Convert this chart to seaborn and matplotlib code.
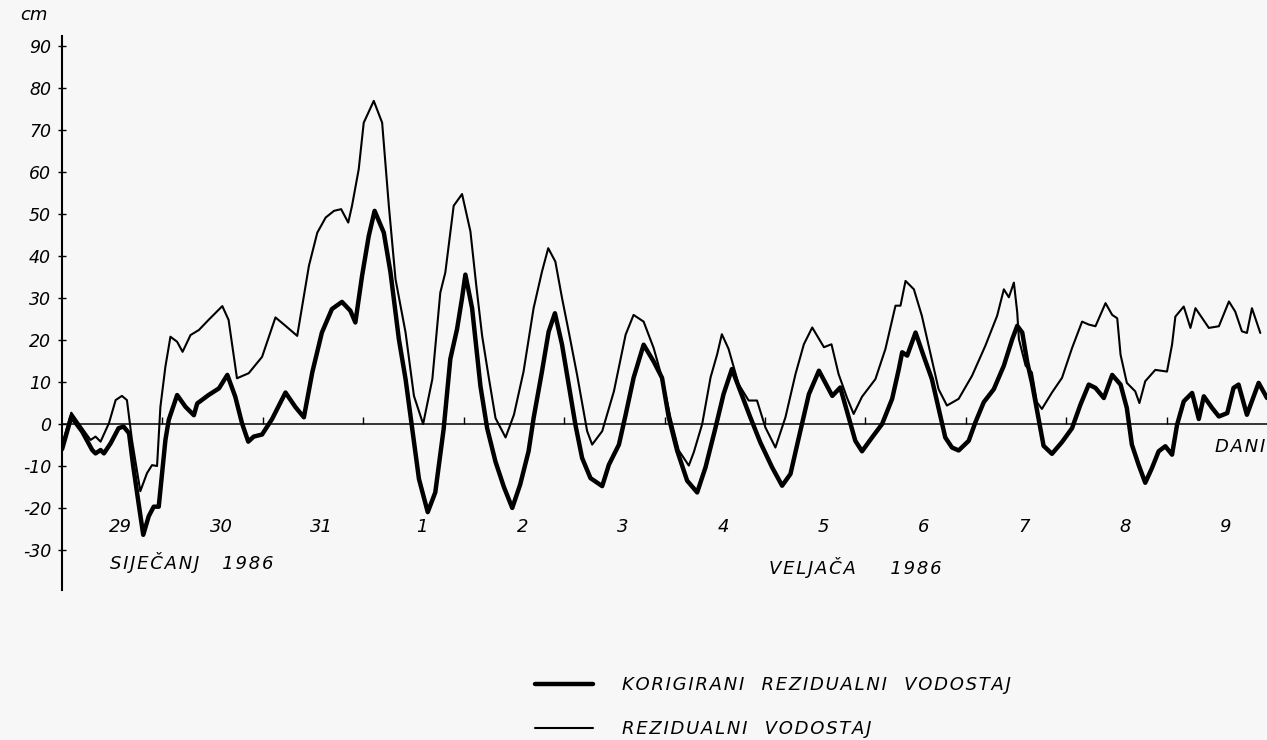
import matplotlib
matplotlib.use("Agg")
import matplotlib.pyplot as plt
import seaborn as sns

# hours from 29 Jan 1986 00:00, residual water level in cm
hours_rez = [0, 2.2, 4.8, 6.8, 8, 9.2, 11.2, 12.8, 14.3, 15.5, 16.7, 18.7, 20.3, 21.5, 22.7, 23.5,
             24.7, 25.9, 27.5, 28.8, 30.7, 32.7, 35, 38.3, 39.8, 41.8, 44.6, 47.8, 51, 53.4, 56.2,
             57.4, 59, 61, 63, 65, 66.7, 68.4, 69.3, 70.9, 72.1, 74.5, 76.5, 78.1, 79.7, 82.1, 84.1,
             86.3, 88.5, 90.4, 91.6, 93.6, 95.6, 97.6, 99, 100.4, 102, 103.6, 106, 108, 110.3,
             112.7, 114.7, 116.2, 117.9, 119.5, 121.1, 123.1, 125.5, 126.7, 129.1, 131.9, 134.7,
             136.6, 139, 141.4, 143.4, 145.4, 147.4, 149.8, 151, 153, 155, 156.6, 157.7, 159.3,
             161.7, 164.1, 166.1, 168.1, 170.5, 172.9, 175.3, 177.3, 179.3, 182.1, 183.9, 185.6,
             187.6, 189.2, 191.2, 194.4, 196.8, 199.2, 200.4, 201.6, 203.6, 205.5, 207.5, 209.5,
             211.5, 214.3, 217.5, 220.7, 223.5, 225.1, 226.3, 227.5, 228.3, 228.7, 230.3, 231.8,
             233, 234.2, 236.6, 239, 241.4, 243.8, 245.4, 247, 249.4, 251, 252.2, 253, 254.5,
             256.5, 257.5, 258.9, 261.3, 264.1, 265.3, 266.1, 268.1, 269.7, 270.9, 274.1, 276.5,
             278.9, 280.4, 282, 283.2, 284.4, 286.4]
rezidualni = [-5, 2.7, -1, -3.8, -3, -4.2, 0.2, 5.7, 6.7, 5.7, -3.8, -16, -11.7, -9.8, -10, 4.1,
              13.7, 20.8, 19.6, 17.2, 21.2, 22.4, 24.8, 28.1, 24.8, 10.9, 12.1, 16, 25.4, 23.4, 21,
              28.2, 37.7, 45.6, 49.2, 50.8, 51.2, 48, 52, 60.7, 71.8, 77, 71.8, 52, 34.5, 21.8, 6.7,
              0, 10.7, 31.3, 36.1, 52, 54.8, 45.9, 33, 21, 11, 1.4, -3.2, 2.2, 12.5,
              27.6, 36.3, 41.9, 38.7, 30, 22, 11.7, -1.7, -4.9, -1.7, 7.8, 21.3,
              26, 24.4, 18.1, 11, 1.6, -6.3, -9.9, -6.7, 0, 11.1, 16.7, 21.4, 17.9,
              9.5, 5.6, 5.6, -0.8, -5.6, 1.6, 11.9, 19, 23, 18.3, 19, 11.9,
              6.3, 2.4, 6.5, 10.7, 17.9, 28.2, 28.2, 34.1, 32.1, 25.8, 17.1, 8.3,
              4.4, 6, 11.5, 18.7, 25.8, 32.1, 30.2, 33.7, 26.6, 20.2, 13.9, 12.3,
              5.2, 3.6, 7.5, 11, 18.1, 24.4, 23.7, 23.3, 28.8, 26, 25.2, 16.5, 9.8,
              7.8, 5, 10.2, 12.9, 12.5, 18.9, 25.6, 28, 22.9, 27.6, 22.9, 23.3,
              29.2, 26.8, 22.1, 21.7, 27.6, 21.7]

hours_kor = [0, 2.2, 4.8, 7.2, 8, 9.2, 10, 11.6, 13.5, 14.7, 16, 17, 18.3, 19.4, 20.7, 21.9, 23.1,
             23.9, 24.7, 25.5, 27.5, 29.5, 31.5, 32.3, 35, 37.5, 39.5, 41.4, 43, 44.5, 45.8, 47.8,
             50.2, 53.4, 55.8, 57.8, 59.8, 62.1, 64.5, 66.9, 68.9, 70.1, 71.7, 73.3, 74.7, 76.9,
             78.5, 80.5, 82.1, 83.7, 85.3, 87.4, 89.2, 91.2, 92.8, 94.4, 95.6, 96.4, 98, 99.2, 100,
             101.6, 103.6, 105.6, 107.6, 109.5, 111.5, 112.7, 114.7, 116.3, 117.8, 119.5, 121.1,
             122.7, 124.3, 126.3, 129.1, 130.7, 133.1, 134.7, 136.6, 139, 141.4, 143.4, 145, 147,
             149.4, 151.8, 153.8, 156.2, 158.1, 160.1, 162.1, 164.5, 166.9, 169.7, 172.1, 174.1,
             176.1, 178.5, 180.9, 184.1, 186, 188, 189.6, 191.2, 193.6, 196, 198.4, 200, 200.8,
             202, 204, 205.9, 207.9, 209.9, 211.1, 212.7, 214.3, 216.7, 218.3, 220.3, 222.7,
             225.1, 227.1, 228.3, 229.5, 230.7, 231.8, 233.4, 234.6, 236.6, 239, 241.4, 243.4,
             245.4, 247, 249, 251, 253, 254.5, 255.7, 257.3, 258.9, 260.5, 262.1, 263.7, 265.3,
             266.5, 268.1, 270.1, 271.7, 272.9, 274.9, 276.5, 278.5, 280, 281.2, 283.2, 286, 288]
korigirani = [-6, 1.7, -1.8, -6.2, -7, -6.2, -7, -4.6, -1, -0.6, -2.2, -10, -19, -26.4, -22, -19.7,
              -19.7, -11.7, -3.8, 1, 6.9, 4.1, 2.1, 4.9, 6.9, 8.5, 11.7, 6.5, 0.2, -4.2, -3, -2.5,
              1.2, 7.5, 4, 1.6, 12.3, 21.8, 27.4, 29.1, 27, 24.2, 35.3, 44.8, 50.8, 45.6,
              36.1, 20.2, 10.7, -1.2, -13.1, -21, -16.3, -1.2, 15.5, 22.6, 30, 35.6, 27.6, 16.5, 9,
              -1, -9, -15, -20, -14.4, -6.5, 1.4, 12.5, 22, 26.4, 18.9, 9.4,
              -0.2, -8.1, -12.9, -14.8, -9.7, -4.9, 2.2, 11, 18.9, 14.9, 11, 1.6, -6.3,
              -13.5, -16.3, -10.3, -0.8, 7.1, 13.1, 7.9, 1.6, -4.4, -10.3, -14.7, -11.9,
              -3.2, 7.1, 12.7, 6.7, 8.7, 1.6, -4, -6.5, -3.2, 0, 6, 13.1, 17.1,
              16.3, 21.8, 16.3, 10.7, 2, -3.2, -5.6, -6.3, -4, 0.4, 5.2, 8.3,
              13.9, 20.2, 23.4, 21.8, 14.7, 9.9, 1.2, -5.2, -7.1, -4.3, -1, 4.6,
              9.4, 8.6, 6.2, 11.7, 9.4, 3.8, -4.9, -9.7, -14, -10.5, -6.5, -5.3, -7.3,
              -0.2, 5.4, 7.4, 1.2, 6.6, 3.8, 1.8, 2.6, 8.6, 9.4, 2.2, 9.8, 6.2]

days = ["29", "30", "31", "1", "2", "3", "4", "5", "6", "7", "8", "9"]
y_ticks = [-30, -20, -10, 0, 10, 20, 30, 40, 50, 60, 70, 80, 90]


def spaced(*words, gap="   "):
    # wide hand-lettered look: hair space between letters
    return gap.join("\u200a".join(w) for w in words)


sns.set_theme(style="white")
plt.rcParams["font.family"] = ["DejaVu Sans"]
plt.rcParams["axes.unicode_minus"] = False
plt.rcParams["lines.solid_joinstyle"] = "round"
plt.rcParams["lines.solid_capstyle"] = "round"
bg = "#f7f7f7"

fig = plt.figure(figsize=(12.67, 7.4), dpi=100, facecolor=bg)
ax = fig.add_axes([0.049, 0.203, 0.951, 0.748])
ax.set_facecolor(bg)

sns.lineplot(x=hours_rez, y=rezidualni, ax=ax, color="black", linewidth=1.5,
             estimator=None, label=spaced("REZIDUALNI", "VODOSTAJ"))
sns.lineplot(x=hours_kor, y=korigirani, ax=ax, color="black", linewidth=3.2,
             estimator=None, label=spaced("KORIGIRANI", "REZIDUALNI", "VODOSTAJ"))

ax.axhline(0, color="black", linewidth=1.1)
edges = [24 * i for i in range(1, len(days))]
ax.plot(edges, [0] * len(edges), linestyle="none", marker=2, markersize=5,
        markeredgewidth=1, color="black")

ax.set_xlim(0, 288)
ax.set_ylim(-39.5, 92.4)
for s in ["top", "right", "bottom"]:
    ax.spines[s].set_visible(False)
ax.spines["left"].set_linewidth(1.5)
ax.spines["left"].set_color("black")
ax.set_xticks([])
ax.set_yticks(y_ticks)
ax.tick_params(axis="y", direction="inout", length=6, width=1, labelsize=12.5, pad=5,
               left=True, colors="black")
for lab in ax.get_yticklabels():
    lab.set_fontstyle("italic")

it = dict(fontstyle="italic", fontsize=13, color="black")
for i, d in enumerate(days):
    ax.text(i * 24 + 14, -24.5, d, ha="center", va="center", **it)
ax.text(11.5, -33, spaced("SIJEČANJ", "1986", gap="    "), ha="left", va="center", **it)
ax.text(169, -34.3, spaced("VELJAČA", "1986", gap="      "), ha="left", va="center", **it)
ax.text(287.5, -5.5, spaced("DANI"), ha="right", va="center", **it)
fig.text(20 / 1267, 1 - 15 / 740, "cm", ha="left", va="center", **it)

handles, labels = ax.get_legend_handles_labels()
ax.get_legend().remove()
fig.legend(handles[::-1], labels[::-1], loc="upper left",
           bbox_to_anchor=(535 / 1267, 1 - 676 / 740), frameon=False,
           prop=dict(style="italic", size=13), labelcolor="black",
           handlelength=3.2, handletextpad=1.6,
           labelspacing=1.45, borderpad=0, borderaxespad=0)

fig.savefig("out.png", dpi=100, facecolor=bg)
